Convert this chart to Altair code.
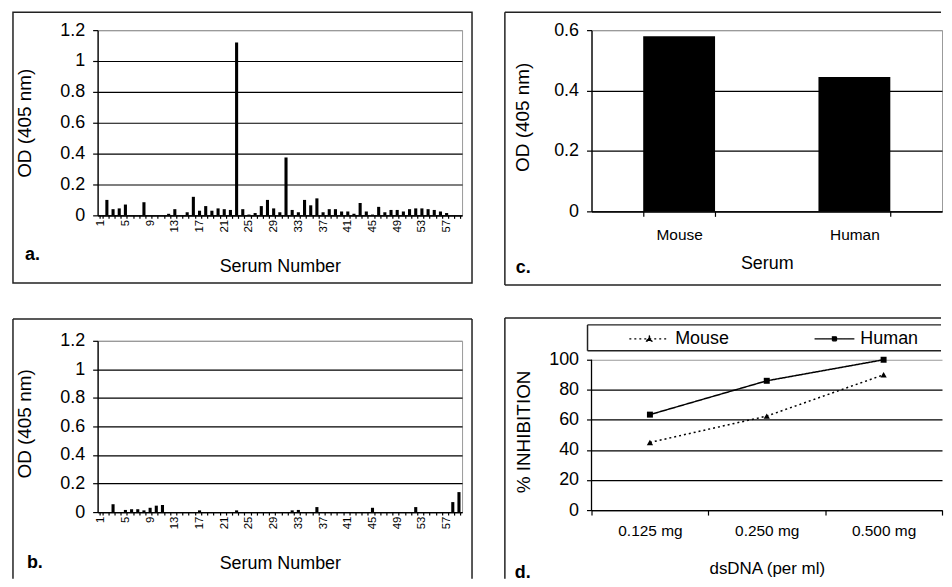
import altair as alt
import pandas as pd

FONT = "Liberation Sans"

# ---------------- data ----------------
serum_numbers = list(range(1, 60))
od_panel_a = [0, 0.10, 0.04, 0.045, 0.07, 0, 0, 0.085, 0, 0,
              0, 0.01, 0.04, 0, 0.02, 0.12, 0.03, 0.06, 0.03, 0.045,
              0.04, 0.035, 1.12, 0.04, 0.005, 0.015, 0.06, 0.10, 0.045, 0.02,
              0.375, 0.035, 0.02, 0.10, 0.065, 0.11, 0.02, 0.04, 0.04, 0.025,
              0.025, 0.01, 0.08, 0.025, 0.005, 0.055, 0.02, 0.035, 0.035, 0.025,
              0.04, 0.045, 0.045, 0.04, 0.035, 0.025, 0.015, 0, 0]
od_panel_b = [0, 0, 0.055, 0, 0.015, 0.02, 0.02, 0.012, 0.03, 0.045,
              0.05, 0, 0, 0, 0, 0, 0.012, 0, 0, 0,
              0, 0, 0.012, 0, 0, 0, 0, 0, 0, 0,
              0, 0.012, 0.015, 0, 0, 0.035, 0, 0, 0, 0,
              0, 0, 0, 0, 0.03, 0, 0, 0, 0, 0,
              0, 0.035, 0, 0, 0, 0, 0, 0.07, 0.14]
serum_types = ["Mouse", "Human"]
od_panel_c = [0.58, 0.445]
dsdna_doses = ["0.125 mg", "0.250 mg", "0.500 mg"]
inhibition_mouse = [45, 62.5, 90]
inhibition_human = [63.5, 86, 100]

od_ticks = [0, 0.2, 0.4, 0.6, 0.8, 1, 1.2]
od_ticks_c = [0, 0.2, 0.4, 0.6]
pct_ticks = [0, 20, 40, 60, 80, 100]

DUMMY = pd.DataFrame({"k": [0]})
BOX = "#222222"


def hrule(x1, x2, y):
    return alt.Chart(DUMMY).mark_rule(color=BOX, strokeWidth=1.5).encode(
        x=alt.value(x1), x2=alt.value(x2), y=alt.value(y))


def vrule(x, y1, y2):
    return alt.Chart(DUMMY).mark_rule(color=BOX, strokeWidth=1.5).encode(
        x=alt.value(x), y=alt.value(y1), y2=alt.value(y2))


def letter(txt, x, y):
    return alt.Chart(pd.DataFrame({"t": [txt]})).mark_text(
        align="left", baseline="alphabetic", font=FONT, fontSize=18,
        fontWeight="bold", color="black").encode(
        text="t:N", x=alt.value(x), y=alt.value(y))


def grid_cond(top):
    return {"condition": {"test": f"datum.value >= {top} - 1e-6", "value": "#9a9a9a"},
            "value": "black"}


def serum_bars(values, title_y_x, title_y_y, title_x_y):
    df = pd.DataFrame({"serum": serum_numbers, "od": values})
    return alt.Chart(df).mark_bar(color="black").encode(
        x=alt.X("serum:O",
                scale=alt.Scale(paddingInner=0.5, paddingOuter=0.25),
                axis=alt.Axis(title="Serum Number", titleFontSize=18, titleY=title_x_y,
                              titleBaseline="top", labelAngle=-90, labelFontSize=11.5,
                              labelPadding=1, tickSize=3, tickBand="extent",
                              labelExpr="(datum.value - 1) % 4 == 0 ? datum.label : ''",
                              labelOverlap=False, grid=False)),
        y=alt.Y("od:Q", scale=alt.Scale(domain=[0, 1.2], nice=False),
                axis=alt.Axis(title="OD (405 nm)", values=od_ticks, format="~g",
                              grid=True, gridColor=grid_cond(1.2), tickSize=5,
                              labelOverlap=False,
                              labelFontSize=18, labelPadding=8, titleFontSize=19,
                              titleAngle=270, titleBaseline="bottom", titleAlign="center",
                              titleX=title_y_x, titleY=title_y_y)),
    )


# ---------------- panel a ----------------
panel_a = alt.layer(
    alt.Chart(DUMMY).mark_rect(fill="transparent", stroke=BOX, strokeWidth=1.5).encode(
        x=alt.value(-85), x2=alt.value(376), y=alt.value(-18), y2=alt.value(254)),
    serum_bars(od_panel_a, -63, 93, 42),
    letter("a.", -73, 231),
).properties(width=366, height=186, view=alt.ViewBackground(stroke="#9a9a9a"))

# ---------------- panel b ----------------
panel_b = alt.layer(
    vrule(-85, -22, 239), hrule(-85, 376, -22), vrule(376, -22, 239),
    serum_bars(od_panel_b, -63, 83, 43),
    letter("b.", -71, 228),
).properties(width=366, height=172, view=alt.ViewBackground(stroke="#9a9a9a"))

# ---------------- panel c ----------------
df_c = pd.DataFrame({"serum": serum_types, "od": od_panel_c})
bars_c = alt.Chart(df_c).mark_bar(color="black").encode(
    x=alt.X("serum:N", sort=serum_types,
            scale=alt.Scale(paddingInner=0.59, paddingOuter=0.295),
            axis=alt.Axis(title="Serum", titleFontSize=18, titleY=43, titleBaseline="top",
                          labelAngle=0, labelFontSize=15.5, labelPadding=11, tickSize=5,
                          tickBand="extent", grid=False)),
    y=alt.Y("od:Q", scale=alt.Scale(domain=[0, 0.6], nice=False),
            axis=alt.Axis(title="OD (405 nm)", values=od_ticks_c, format="~g",
                          grid=True, gridColor=grid_cond(0.6), tickSize=5,
                          labelOverlap=False,
                          labelFontSize=18, labelPadding=8, titleFontSize=19,
                          titleAngle=270, titleBaseline="bottom", titleAlign="center",
                          titleX=-59, titleY=87)),
)
panel_c = alt.layer(
    vrule(-87, -18, 256), hrule(-87, 351, -18), hrule(-87, 351, 256),
    bars_c,
    letter("c.", -76, 244),
).properties(width=352, height=182, view=alt.ViewBackground(stroke="#9a9a9a"))

# ---------------- panel d ----------------
df_m = pd.DataFrame({"dose": dsdna_doses, "pct": inhibition_mouse, "series": "Mouse"})
df_h = pd.DataFrame({"dose": dsdna_doses, "pct": inhibition_human, "series": "Human"})
df_axis = pd.DataFrame({"pct": [pct_ticks[0]], "pct_end": [pct_ticks[-1]]})

d_y_axis = alt.Axis(title="% INHIBITION", values=pct_ticks, format="d",
                    grid=True, gridColor=grid_cond(100), tickSize=5, domain=False,
                    labelOverlap=False,
                    labelFontSize=18, labelPadding=8, titleFontSize=19,
                    titleAngle=270, titleBaseline="bottom", titleAlign="center",
                    titleX=-58, titleY=91)
d_y_scale = alt.Scale(domain=[0, 112.6], nice=False)

x_d = alt.X("dose:N", sort=dsdna_doses,
            scale=alt.Scale(type="band", paddingInner=0, paddingOuter=0),
            axis=alt.Axis(title="dsDNA (per ml)", titleFontSize=17, titleY=51,
                          titleBaseline="top", labelAngle=0, labelFontSize=15.5,
                          labelPadding=9, tickSize=5, tickBand="extent", grid=False))
y_d = alt.Y("pct:Q", scale=d_y_scale, axis=d_y_axis)

PATH_TRI = "M-1,0L1,0M-0.13,0.11L0,-0.13L0.13,0.11Z"
PATH_SQ = "M-1,0L1,0M-0.1,-0.1L0.1,-0.1L0.1,0.1L-0.1,0.1Z"


def series_legend(path, lx):
    return alt.Legend(title=None, orient="none", legendX=lx, legendY=-23,
                      symbolType=path, symbolSize=1600,
                      symbolFillColor="black", symbolStrokeColor="black",
                      symbolStrokeWidth=1.3, labelFontSize=18,
                      labelFont=FONT, labelColor="black",
                      labelOffset=5, padding=0)


line_m = alt.Chart(df_m).mark_line(color="black", strokeWidth=1.5).encode(
    x=x_d, y=y_d,
    strokeDash=alt.StrokeDash("series:N",
                              scale=alt.Scale(domain=["Mouse"], range=[[2, 3]]),
                              legend=series_legend(PATH_TRI, 37)))
line_h = alt.Chart(df_h).mark_line(color="black", strokeWidth=1.5).encode(
    x=x_d, y=y_d,
    strokeDash=alt.StrokeDash("series:N",
                              scale=alt.Scale(domain=["Human"], range=[[1, 0]]),
                              legend=series_legend(PATH_SQ, 223)))
pts_m = alt.Chart(df_m).mark_point(shape="triangle-up", filled=True, size=40,
                                   color="black", opacity=1).encode(x=x_d, y=y_d)
pts_h = alt.Chart(df_h).mark_point(shape="square", filled=True, size=36,
                                   color="black", opacity=1).encode(x=x_d, y=y_d)
y_axis_line = alt.Chart(df_axis).mark_rule(color="black", strokeWidth=1.3).encode(
    x=alt.value(0), y=y_d, y2="pct_end:Q")

panel_d = alt.layer(
    vrule(-87, -23, 239), hrule(-87, 351, -23),
    hrule(-4, 351, -16), hrule(-4, 351, 10), vrule(-4, -16, 10),
    line_m, line_h, pts_m, pts_h, y_axis_line,
    letter("d.", -77, 238),
).resolve_scale(strokeDash="independent").resolve_legend(strokeDash="independent").properties(
    width=352, height=170, view=alt.ViewBackground(stroke="transparent"))

chart = alt.concat(panel_a, panel_c, panel_b, panel_d, columns=2,
                   spacing={"row": 126, "column": 130}, bounds="flush").properties(
    padding={"left": 3, "top": 1, "right": 0, "bottom": 0}
).configure(font=FONT, background="white").configure_axis(
    labelColor="black", titleColor="black", domainColor="black", tickColor="black",
    domainWidth=1.3, tickWidth=1.2, gridWidth=1.2, labelFont=FONT, titleFont=FONT,
    titleFontWeight="normal"
)

chart.save("out.html", embed_options={"renderer": "svg", "actions": False})
